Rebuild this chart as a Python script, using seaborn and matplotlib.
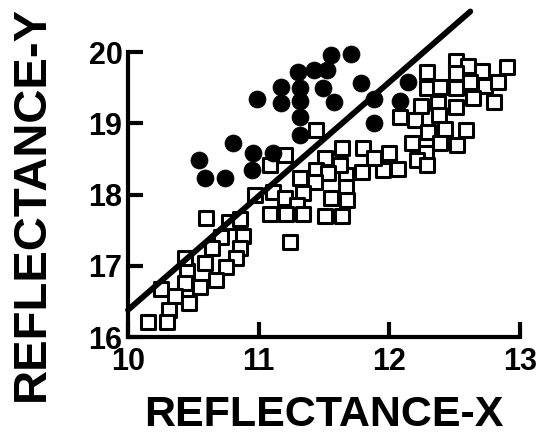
import numpy as np
import pandas as pd
import seaborn as sns
import matplotlib
matplotlib.use('Agg')
import matplotlib.pyplot as plt

# filled circles
circle_x = [11.55, 11.71, 11.30, 11.42, 11.52, 11.17, 11.32, 11.49, 11.78, 10.99,
            11.17, 11.32, 11.58, 11.88, 11.32, 11.88, 11.32, 12.14, 12.08, 10.80,
            10.96, 11.11, 10.54, 10.95, 10.59, 10.74]
circle_y = [19.96, 19.97, 19.72, 19.75, 19.75, 19.51, 19.49, 19.49, 19.56, 19.34,
            19.28, 19.32, 19.30, 19.34, 19.09, 19.00, 18.83, 19.58, 19.32, 18.72,
            18.58, 18.58, 18.48, 18.34, 18.23, 18.23]

# open squares
square_x = [12.51, 12.60, 12.71, 12.90, 12.29, 12.51, 12.62, 12.73, 12.83, 12.29,
            12.39, 12.51, 12.24, 12.37, 12.51, 12.64, 12.80, 12.38, 12.08, 12.20,
            12.30, 12.43, 12.59, 12.17, 12.39, 12.52, 12.28, 12.21, 12.29, 12.07,
            11.95, 11.79, 11.67, 11.62, 11.51, 11.64, 11.80, 11.88, 12.00, 11.44,
            11.20, 11.09, 11.44, 11.53, 11.32, 11.43, 11.67, 11.11, 10.97, 11.34,
            11.20, 11.55, 11.68, 11.29, 11.09, 11.21, 11.34, 11.51, 11.64, 11.24,
            10.60, 10.77, 10.86, 10.71, 10.88, 10.86, 10.64, 10.83, 10.75, 10.59,
            10.45, 10.44, 10.67, 10.55, 10.44, 10.25, 10.36, 10.47, 10.31, 10.15,
            10.30]
square_y = [19.88, 19.81, 19.74, 19.79, 19.72, 19.70, 19.58, 19.53, 19.58, 19.49,
            19.51, 19.49, 19.25, 19.28, 19.23, 19.35, 19.30, 19.11, 19.09, 19.04,
            18.88, 18.92, 18.90, 18.72, 18.72, 18.69, 18.58, 18.48, 18.41, 18.36,
            18.34, 18.31, 18.27, 18.41, 18.52, 18.66, 18.65, 18.52, 18.59, 18.90,
            18.55, 18.41, 18.34, 18.30, 18.23, 18.17, 18.10, 18.03, 17.99, 18.02,
            17.95, 17.95, 17.92, 17.85, 17.73, 17.73, 17.73, 17.70, 17.70, 17.33,
            17.67, 17.61, 17.65, 17.40, 17.42, 17.25, 17.25, 17.11, 16.98, 17.04,
            16.93, 17.11, 16.80, 16.70, 16.76, 16.67, 16.58, 16.48, 16.38, 16.21,
            16.21]

# diagonal reference line
line_x = [10.0, 12.62]
line_y = [16.38, 20.57]

x_ticks = [10, 11, 12, 13]
y_ticks = [16, 17, 18, 19, 20]

sns.set_style('ticks')
plt.rcParams['font.family'] = ['Liberation Sans', 'DejaVu Sans']
plt.rcParams['font.weight'] = 'bold'
for key in ['text.color', 'axes.labelcolor', 'xtick.color', 'ytick.color',
            'xtick.labelcolor', 'ytick.labelcolor']:
    plt.rcParams[key] = 'black'

fig = plt.figure(figsize=(5.41, 4.34), dpi=100)
ax = fig.add_axes([0.2366, 0.2235, 0.7245, 0.6565])

sq = pd.DataFrame({'x': square_x, 'y': square_y})
ci = pd.DataFrame({'x': circle_x, 'y': circle_y})

sns.scatterplot(data=sq, x='x', y='y', marker='s', s=92, facecolor='white',
                edgecolor='black', linewidth=2.2, ax=ax, zorder=2, clip_on=False)
sns.scatterplot(data=ci, x='x', y='y', marker='o', s=150, color='black',
                edgecolor='black', linewidth=0.5, ax=ax, zorder=3, clip_on=False)
sns.lineplot(x=line_x, y=line_y, color='black', linewidth=4.2, ax=ax,
             clip_on=False, zorder=4, solid_capstyle='round')

ax.set_xlim(10, 13)
ax.set_ylim(16, 20)
ax.set_xticks(x_ticks)
ax.set_yticks(y_ticks)
ax.set_xticklabels([str(t) for t in x_ticks], fontsize=22, fontweight='bold')
ax.set_yticklabels([str(t) for t in y_ticks], fontsize=22, fontweight='bold')
ax.tick_params(direction='in', length=11, width=3, color='black')
ax.tick_params(axis='x', pad=7)
ax.tick_params(axis='y', pad=4)

sns.despine(ax=ax)
for side in ['left', 'bottom']:
    ax.spines[side].set_linewidth(3)
    ax.spines[side].set_color('black')

ax.set_xlabel('REFLECTANCE-X', fontsize=31, fontweight='bold')
ax.set_ylabel('REFLECTANCE-Y', fontsize=34, fontweight='bold')
ax.xaxis.set_label_coords(0.5, -0.205)
ax.yaxis.set_label_coords(-0.19, 0.47)

fig.savefig('out.png', dpi=100)
